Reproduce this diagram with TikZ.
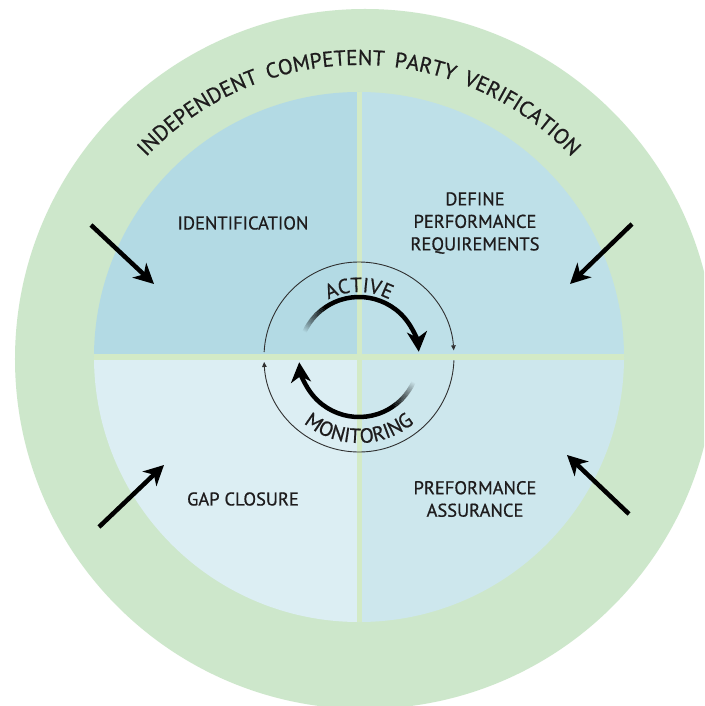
\documentclass[tikz,border=0pt]{standalone}
\usepackage{fontspec}
\setmainfont{PT Sans}[FakeBold=0.7]
\newfontfamily\arcfont[LetterSpace=19,FakeBold=0.7]{PT Sans}
\newfontfamily\smallarcfont[LetterSpace=14,FakeBold=0.7]{PT Sans}
\usetikzlibrary{arrows.meta,decorations.text}
\definecolor{ringgreen}{HTML}{CDE7CB}
\definecolor{qtl}{HTML}{B3DAE4}
\definecolor{qtr}{HTML}{BEE0E8}
\definecolor{qbl}{HTML}{DCEEF3}
\definecolor{qbr}{HTML}{CDE7ED}
\definecolor{divider}{HTML}{D3EAC6}
\definecolor{txt}{HTML}{1E1C1D}
\definecolor{thinline}{HTML}{303030}
\tikzset{
  lab/.style={font=\fontsize{18.5}{22.5}\selectfont, text=txt, align=center, inner sep=0pt},
  bigarrow/.style={line width=4.5pt, black, -{Stealth[length=20pt, width=20pt, inset=6pt]}},
  thinarc/.style={line width=0.9pt, thinline, -{Triangle[length=5pt, width=4.5pt]}},
  cyclearrow/.style={line width=4.5pt, black},
  divline/.style={line width=5.5pt, divider},
}
\begin{document}
\begin{tikzpicture}[x=1pt,y=1pt]
\useasboundingbox (-359,-349) rectangle (345,357);
\fill[white] (-359,-349) rectangle (345,357);
% outer ring
\begin{scope}
\clip (-359,-349) rectangle (345,357);
\fill[ringgreen] (6,-2) circle (350);
\end{scope}
% quadrants
\fill[qtl] (0,0) -- (180:265) arc (180:90:265) -- cycle;
\fill[qtr] (0,0) -- (90:265) arc (90:0:265) -- cycle;
\fill[qbr] (0,0) -- (0:265) arc (0:-90:265) -- cycle;
\fill[qbl] (0,0) -- (-90:265) arc (-90:-180:265) -- cycle;
\draw[divline] (0.5,265) -- (0.5,-265);
\draw[divline] (-265,0) -- (265,0);
% outer arc text
\path[decorate, decoration={text along path, text align=center, text color=txt,
  text={|\arcfont\fontsize{21.5}{23}\selectfont|INDEPENDENT COMPETENT PARTY VERIFICATION}}]
  (140:292) arc (140:40:292);
% quadrant labels
\node[lab] (ident) at (-116,134) {IDENTIFICATION};
\node[lab] (define) at (116,134) {DEFINE\\PERFORMANCE\\REQUIREMENTS};
\node[lab] (gap) at (-116,-142) {GAP CLOSURE};
\node[lab] (assur) at (116,-142) {PREFORMANCE\\ASSURANCE};
% outer arrows
\coordinate (tlS) at (-268,132); \coordinate (tlE) at (-205,73);
\coordinate (trS) at (273,133);  \coordinate (trE) at (211,73);
\coordinate (blS) at (-260,-170); \coordinate (blE) at (-195,-108);
\coordinate (brS) at (270,-157); \coordinate (brE) at (208,-98);
\draw[bigarrow] (tlS) -- (tlE);
\draw[bigarrow] (trS) -- (trE);
\draw[bigarrow] (blS) -- (blE);
\draw[bigarrow] (brS) -- (brE);
% thin circle arcs
\draw[thinarc] (177:95) arc (177:4:95);
\draw[thinarc] (-2:95) arc (-2:-177:95);
% thick cycle arrows with fading tails
\foreach \i in {0,...,29}{
  \pgfmathsetmacro{\op}{(\i+1)/30}
  \draw[cyclearrow, draw opacity=\op] (155-\i:60) arc (155-\i:154-\i:60);
  \draw[cyclearrow, draw opacity=\op] (-25-\i:60) arc (-25-\i:-26-\i:60);
}
\draw[cyclearrow, -{Stealth[length=20pt, width=20pt, inset=6pt]}] (125.2:60) arc (125.2:5:60);
\draw[cyclearrow, -{Stealth[length=20pt, width=20pt, inset=6pt]}] (-54.8:60) arc (-54.8:-175:60);
% inner arc texts
\path[decorate, decoration={text along path, text align=center, text color=txt,
  text={|\smallarcfont\fontsize{20.5}{22}\selectfont|ACTIVE}}]
  (130:65) arc (130:50:65);
\path[decorate, decoration={text along path, text align=center, text color=txt,
  text={|\smallarcfont\fontsize{20.5}{22}\selectfont|MONITORING}}]
  (-150:86) arc (-150:-30:86);
\end{tikzpicture}
\end{document}
